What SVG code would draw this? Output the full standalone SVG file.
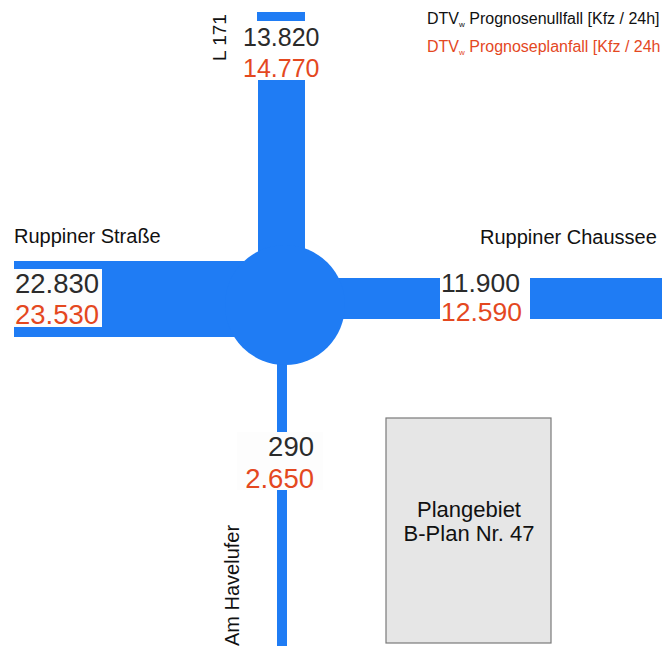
<svg xmlns="http://www.w3.org/2000/svg" width="662" height="646" viewBox="0 0 662 646">
<style>
.road{fill:#1f7cf4}
.lbl{fill:#fdfdfd}
.t{font-family:"Liberation Sans",Arial,sans-serif}
.n{fill:#2b2b2b}
.p{fill:#e4481f}
.name{font-size:20px;fill:#111}
.num{font-size:25px}
.big{font-size:27.5px}
</style>
<rect width="662" height="646" fill="#ffffff"/>
<g id="roads">
<rect class="road" x="257" y="12" width="48" height="9"/>
<rect class="road" x="258" y="80" width="47" height="180"/>
<rect class="road" x="14" y="261" width="230" height="76"/>
<rect class="road" x="330" y="278" width="332" height="41"/>
<rect class="road" x="277" y="340" width="10" height="306"/>
<circle class="road" cx="285" cy="305" r="60"/>
</g>
<g id="north">
<text class="t name" transform="translate(226,61) rotate(-90)" style="font-size:19px">L 171</text>
<text class="t num n" x="243" y="46">13.820</text>
<text class="t num p" x="243" y="77">14.770</text>
</g>
<g id="west">
<text class="t name" x="14" y="243">Ruppiner Straße</text>
<rect class="lbl" x="14" y="269" width="88" height="58"/>
<text class="t big n" x="15" y="293">22.830</text>
<text class="t big p" x="15" y="324">23.530</text>
</g>
<g id="east">
<text class="t name" x="480" y="244">Ruppiner Chaussee</text>
<rect fill="#ffffff" x="440" y="274" width="90" height="50"/>
<text class="t n" x="441" y="292" font-size="26.5">11.900</text>
<text class="t p" x="441" y="321" font-size="26.5">12.590</text>
</g>
<g id="south">
<rect class="lbl" x="237" y="432" width="86" height="58"/>
<text class="t big n" x="314" y="456" text-anchor="end">290</text>
<text class="t big p" x="314" y="488" text-anchor="end">2.650</text>
<text class="t name" transform="translate(239,646) rotate(-90)">Am Havelufer</text>
</g>
<g id="plangebiet">
<rect x="386" y="418" width="165" height="225" fill="#e6e6e6" stroke="#7a7a7a" stroke-width="1.2"/>
<text class="t" x="469" y="517" font-size="22" text-anchor="middle" fill="#111">Plangebiet</text>
<text class="t" x="469" y="541" font-size="22" text-anchor="middle" fill="#111">B-Plan Nr. 47</text>
</g>
<g id="legend">
<text class="t" x="427" y="24" font-size="16" fill="#111">DTV<tspan font-size="8" dy="3">w</tspan><tspan dy="-3"> Prognosenullfall [Kfz / 24h]</tspan></text>
<text class="t" x="427" y="52" font-size="16" fill="#e4481f">DTV<tspan font-size="8" dy="3">w</tspan><tspan dy="-3"> Prognoseplanfall [Kfz / 24h</tspan></text>
</g>
</svg>
